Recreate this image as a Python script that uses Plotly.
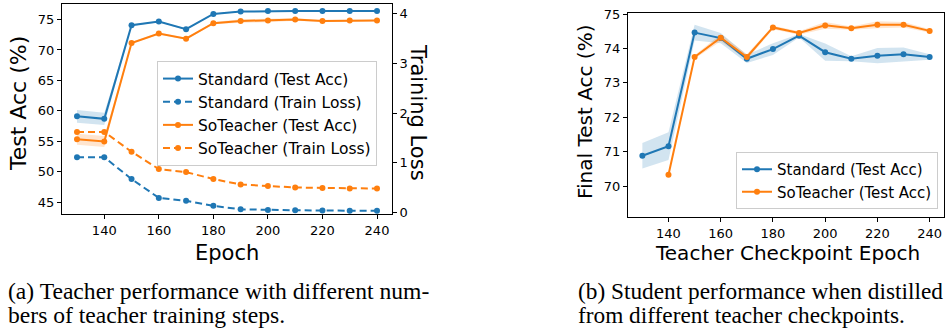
import plotly.graph_objects as go

W, H = 948, 328

# ---------------- data ----------------
epochs = [130, 140, 150, 160, 170, 180, 190, 200, 210, 220, 230, 240]

# (a) teacher performance
std_test_acc = [59.1, 58.7, 74.05, 74.65, 73.4, 75.9, 76.3, 76.4, 76.4, 76.4, 76.4, 76.4]
std_test_acc_err = [1.05, 1.0, 0.12, 0.12, 0.12, 0.1, 0.1, 0.1, 0.1, 0.1, 0.1, 0.1]
std_train_loss = [1.11, 1.11, 0.67, 0.29, 0.23, 0.13, 0.06, 0.046, 0.04, 0.035, 0.03, 0.03]
soft_test_acc = [55.35, 54.97, 71.15, 72.7, 71.85, 74.4, 74.75, 74.85, 75.0, 74.75, 74.85, 74.85]
soft_test_acc_err = [0.9, 0.9, 0.15, 0.15, 0.15, 0.2, 0.3, 0.3, 0.2, 0.15, 0.15, 0.15]
soft_train_loss = [1.62, 1.62, 1.22, 0.87, 0.81, 0.67, 0.56, 0.53, 0.50, 0.49, 0.48, 0.48]

# (b) student performance
std_student = [70.88, 71.16, 74.46, 74.30, 73.70, 73.98, 74.37, 73.89, 73.70, 73.79, 73.83, 73.75]
std_student_err = [0.37, 0.40, 0.23, 0.15, 0.12, 0.17, 0.05, 0.25, 0.07, 0.22, 0.2, 0.08]
soft_epochs = [140, 150, 160, 170, 180, 190, 200, 210, 220, 230, 240]
soft_student = [70.33, 73.75, 74.31, 73.75, 74.61, 74.45, 74.67, 74.59, 74.69, 74.69, 74.51]
soft_student_err = [0.0, 0.05, 0.1, 0.08, 0.05, 0.05, 0.1, 0.05, 0.1, 0.08, 0.05]

x_ticks = [140, 160, 180, 200, 220, 240]
acc_ticks_a = [45, 50, 55, 60, 65, 70, 75]
loss_ticks = [0, 1, 2, 3, 4]
acc_ticks_b = [70, 71, 72, 73, 74, 75]

BLUE = "#1f77b4"
ORANGE = "#ff7f0e"
FILL_BLUE = "rgba(31,119,180,0.2)"
FILL_ORANGE = "rgba(255,127,14,0.2)"
FONT = "DejaVu Sans"


def band(x, y, e, color, xa, ya):
    upper = [a + b for a, b in zip(y, e)]
    lower = [a - b for a, b in zip(y, e)]
    return go.Scatter(x=list(x) + list(x)[::-1], y=upper + lower[::-1],
                      fill="toself", fillcolor=color, mode="lines",
                      line=dict(width=0), hoverinfo="skip", showlegend=False,
                      xaxis=xa, yaxis=ya)


def line(x, y, name, color, xa, ya, dash="solid", legend="legend"):
    return go.Scatter(x=x, y=y, name=name, mode="lines+markers",
                      line=dict(color=color, width=2, dash=dash),
                      marker=dict(color=color, size=6),
                      xaxis=xa, yaxis=ya, legend=legend)


fig = go.Figure()
# panel (a)
fig.add_trace(band(epochs, std_test_acc, std_test_acc_err, FILL_BLUE, "x", "y"))
fig.add_trace(band(epochs, soft_test_acc, soft_test_acc_err, FILL_ORANGE, "x", "y"))
fig.add_trace(line(epochs, std_test_acc, "Standard (Test Acc)", BLUE, "x", "y"))
fig.add_trace(line(epochs, std_train_loss, "Standard (Train Loss)", BLUE, "x", "y2", dash="7px,4px"))
fig.add_trace(line(epochs, soft_test_acc, "SoTeacher (Test Acc)", ORANGE, "x", "y"))
fig.add_trace(line(epochs, soft_train_loss, "SoTeacher (Train Loss)", ORANGE, "x", "y2", dash="7px,4px"))
# panel (b)
fig.add_trace(band(epochs, std_student, std_student_err, FILL_BLUE, "x2", "y3"))
fig.add_trace(band(soft_epochs, soft_student, soft_student_err, FILL_ORANGE, "x2", "y3"))
fig.add_trace(line(epochs, std_student, "Standard (Test Acc)", BLUE, "x2", "y3", legend="legend2"))
fig.add_trace(line(soft_epochs, soft_student, "SoTeacher (Test Acc)", ORANGE, "x2", "y3", legend="legend2"))

axis_common = dict(showgrid=False, zeroline=False, showline=True, linecolor="black",
                   linewidth=1, ticks="outside", ticklen=4, tickwidth=1,
                   tickcolor="black", tickfont=dict(family=FONT, size=13, color="black"),
                   automargin=False)


def px_x(p):
    return p / W


def px_y(p):
    return 1 - p / H


fig.update_layout(
    width=W, height=H, template="none",
    margin=dict(l=0, r=0, t=0, b=0),
    paper_bgcolor="white", plot_bgcolor="white",
    xaxis=dict(domain=[px_x(62), px_x(392)], range=[124.5, 245.5], tickvals=x_ticks,
               anchor="y", mirror=True, **axis_common),
    yaxis=dict(domain=[px_y(214), px_y(4)], range=[43.08, 77.54], tickvals=acc_ticks_a,
               anchor="x", **axis_common),
    yaxis2=dict(range=[-0.035, 4.2], tickvals=loss_ticks, overlaying="y", side="right",
                anchor="x", **axis_common),
    xaxis2=dict(domain=[px_x(628), px_x(944)], range=[124.5, 245.5], tickvals=x_ticks,
                anchor="y3", mirror=True, **axis_common),
    yaxis3=dict(domain=[px_y(217), px_y(13)], range=[69.1, 75.03], tickvals=acc_ticks_b,
                anchor="x2", mirror=True, **axis_common),
    legend=dict(x=px_x(157), y=px_y(61), xanchor="left", yanchor="top",
                bgcolor="rgba(255,255,255,0.85)", bordercolor="#cccccc", borderwidth=1,
                font=dict(family=FONT, size=15.5, color="black"), itemwidth=30),
    legend2=dict(x=px_x(938), y=px_y(209), xanchor="right", yanchor="bottom",
                 bgcolor="rgba(255,255,255,0.85)", bordercolor="#cccccc", borderwidth=1,
                 font=dict(family=FONT, size=15, color="black"), itemwidth=30),
    showlegend=True,
)

ann = []


def text(x, y, s, size, angle=0, family=FONT, xanchor="center"):
    ann.append(dict(x=px_x(x), y=px_y(y), xref="paper", yref="paper", text=s,
                    showarrow=False, textangle=angle, xanchor=xanchor, yanchor="middle",
                    font=dict(family=family, size=size, color="black")))


# axis titles
text(18, 104, "Test Acc (%)", 22, angle=-90)
text(227, 253, "Epoch", 21)
text(418, 112, "Training Loss", 21, angle=90)
text(585, 112, "Final Test Acc (%)", 20, angle=-90)
text(787, 253, "Teacher Checkpoint Epoch", 20)
# captions
SERIF = "Liberation Serif"
text(6, 291, "(a) Teacher performance with different num-", 23.6, family=SERIF, xanchor="left")
text(6, 315, "bers of teacher training steps.", 23.6, family=SERIF, xanchor="left")
text(576, 291, "(b) Student performance when distilled", 23.3, family=SERIF, xanchor="left")
text(576, 315, "from different teacher checkpoints.", 23.3, family=SERIF, xanchor="left")

fig.update_layout(annotations=ann)

fig.write_html("out.html", config={"displayModeBar": False},
               post_script="document.body.style.margin='0';document.body.style.overflow='hidden';")
